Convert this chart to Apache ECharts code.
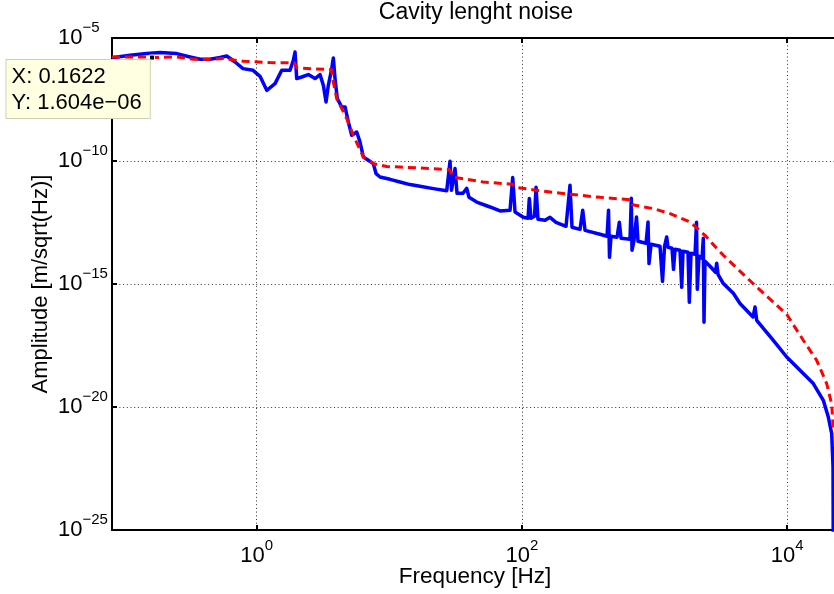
<!DOCTYPE html>
<html>
<head>
<meta charset="utf-8">
<title>Cavity lenght noise</title>
<script src="https://cdn.jsdelivr.net/npm/echarts@6/dist/echarts.min.js"></script>
<style>
  html, body { margin: 0; padding: 0; background: #fff; }
  #chart { width: 834px; height: 594px; }
</style>
</head>
<body>
<div id="chart"></div>
<script>
// Measured cavity length noise spectrum (blue)
const measuredFreq = [
  0.081, 0.1108, 0.1481, 0.1865, 0.2493, 0.314, 0.3736, 0.4444, 0.5288, 0.5938,
  0.686, 0.788, 0.938, 1.059, 1.190, 1.223, 1.374, 1.544, 1.783, 1.888,
  1.945, 2.003, 2.185, 2.449, 2.753, 3.001, 3.180, 3.332, 3.467, 3.679,
  3.782, 3.895, 4.053, 4.375, 4.634, 4.908, 5.205, 5.677, 6.012, 6.366,
  6.944, 7.574, 7.937, 8.508, 10.12, 12.04, 14.33, 17.04, 21.47, 27.10,
  28.70, 29.45, 31.30, 32.41, 35.96, 38.35, 39.90, 45.61, 57.46, 68.37,
  81.35, 85.22, 88.72, 102.5, 111.2, 113.7, 117.1, 124.5, 127.8, 132.2,
  149.4, 162.9, 180.8, 215.1, 230.5, 238.7, 274.3, 287.4, 299.2, 388.2,
  438.4, 449.9, 457.7, 469.8, 521.5, 542.7, 559.0, 653.4, 668.3, 676.5,
  700.4, 731.5, 750.8, 862.9, 893.4, 908.9, 941.1, 1100, 1149, 1190,
  1236, 1264, 1355, 1391, 1428, 1557, 1604, 1640, 1789, 1830,
  1885, 2021, 2074, 2103, 2166, 2282, 2333, 2362, 2403, 2622,
  2884, 2944, 3012, 3303, 3929, 4414, 5532, 5727, 5898, 7870,
  9931, 12510, 15760, 18750, 20450, 21690, 22190, 22300
];
const measuredAmp = [
  1.57e-6, 1.98e-6, 2.32e-6, 2.55e-6, 2.32e-6, 1.69e-6, 1.36e-6, 1.36e-6, 1.60e-6, 1.85e-6,
  1.06e-6, 5.70e-7, 4.86e-7, 2.77e-7, 7.48e-8, 6.38e-8, 1.40e-7, 4.86e-7, 4.86e-7, 1.24e-6,
  2.70e-6, 2.24e-7, 2.60e-7, 3.25e-7, 2.24e-7, 3.25e-7, 1.19e-7, 2.50e-8, 1.19e-7, 5.70e-7,
  1.54e-6, 2.24e-7, 3.44e-8, 1.57e-8, 1.57e-8, 3.85e-9, 1.11e-9, 1.51e-9, 5.91e-10, 1.46e-10,
  1.07e-10, 7.83e-11, 3.08e-11, 2.24e-11, 1.80e-11, 1.40e-11, 1.10e-11, 9.36e-12, 7.55e-12, 6.15e-12,
  9.73e-11, 6.44e-12, 4.91e-11, 4.86e-12, 4.86e-12, 7.77e-12, 3.34e-12, 2.15e-12, 1.35e-12, 9.28e-13,
  9.91e-13, 2.12e-11, 8.45e-13, 5.14e-13, 4.69e-13, 2.96e-12, 4.69e-13, 5.65e-13, 8.53e-12, 4.27e-13,
  3.89e-13, 5.14e-13, 3.22e-13, 2.22e-13, 1.03e-11, 2.02e-13, 1.67e-13, 9.91e-13, 1.52e-13, 1.05e-13,
  8.69e-14, 9.91e-13, 1.22e-14, 8.69e-14, 7.91e-14, 3.22e-13, 7.21e-14, 6.56e-14, 3.05e-12, 2.34e-14,
  5.97e-14, 5.29e-13, 5.44e-14, 4.51e-14, 3.31e-13, 6.75e-15, 4.11e-14, 3.41e-14, 1.29e-15, 3.41e-14,
  8.15e-14, 3.11e-14, 2.83e-14, 3.96e-15, 2.58e-14, 2.34e-14, 7.34e-16, 2.13e-14, 1.95e-14, 1.80e-16,
  1.77e-14, 1.61e-14, 3.22e-13, 6.09e-16, 1.34e-14, 1.11e-14, 7.21e-14, 2.77e-17, 8.38e-15, 5.24e-15,
  2.99e-15, 6.94e-15, 2.48e-15, 1.04e-15, 4.19e-16, 1.60e-16, 4.56e-17, 1.16e-16, 3.34e-17, 5.14e-18,
  1.08e-18, 3.10e-19, 8.93e-20, 1.87e-20, 3.92e-21, 8.30e-22, 3.64e-23, 1e-26
];

// Model noise budget (red dashed)
const modelFreq = [
  0.081, 0.1396, 0.1622, 0.2493, 0.3325, 0.4444, 0.5599, 0.7923, 1.260, 1.928,
  2.003, 3.666, 3.782, 4.012, 4.772, 5.352, 6.366, 7.574, 9.559, 12.04,
  28.45, 30.50, 51.16, 84.93, 89.46, 136.9, 230.5, 388.2, 659.2, 682.3,
  979.5, 1309, 1852, 2403, 2944, 3303, 5898, 9931, 13250, 16720,
  19890, 21690, 22300
];
const modelAmp = [
  1.69e-6, 1.70e-6, 1.604e-6, 1.69e-6, 1.36e-6, 1.36e-6, 1.46e-6, 1.13e-6, 1.0e-6, 9.8e-7,
  6.03e-7, 5.19e-7, 1.63e-7, 3.44e-8, 5.29e-9, 1.11e-9, 1.46e-10, 7.83e-11, 5.97e-11, 5.70e-11,
  4.47e-11, 2.17e-11, 1.40e-11, 1.13e-11, 8.53e-12, 6.15e-12, 4.43e-12, 3.34e-12, 2.65e-12, 1.66e-12,
  1.16e-12, 7.28e-13, 3.31e-13, 9.54e-14, 2.83e-14, 1.47e-14, 7.55e-16, 5.86e-17, 5.14e-18, 7.91e-19,
  8.93e-20, 1.29e-20, 1.13e-21
];

// Decade tick positions
const freqTicks = [1, 100, 10000];
const ampTicks = [1e-25, 1e-20, 1e-15, 1e-10, 1e-5];

// Data cursor readout
const datatipX = 0.1622;
const datatipY = 1.604e-6;

const FONT = '"Liberation Sans", Arial, Helvetica, sans-serif';
const MINUS = '\u2212';

function powerLabel(v) {
  const e = Math.round(Math.log10(v));
  return '{b|10}{s|' + (e < 0 ? MINUS + (-e) : String(e)) + '}';
}

function matlabExp(v) {
  const parts = v.toExponential(3).split('e');
  const n = parseInt(parts[1], 10);
  return parts[0] + 'e' + (n < 0 ? MINUS : '+') + String(Math.abs(n)).padStart(2, '0');
}

const richPow = {
  b: { fontSize: 22, lineHeight: 36, verticalAlign: 'middle', fontFamily: FONT, color: '#000' },
  s: { fontSize: 15, lineHeight: 16, verticalAlign: 'top', fontFamily: FONT, color: '#000' }
};

const gridDots = { color: '#333', width: 1, type: [1, 2.7] };
const blackLine = { color: '#000', width: 2 };

const chart = echarts.init(document.getElementById('chart'));

chart.setOption({
  animation: false,
  backgroundColor: '#fff',
  title: {
    text: 'Cavity lenght noise',
    left: 476,
    top: 1,
    padding: 0,
    textAlign: 'center',
    textStyle: { fontSize: 23, fontWeight: 'normal', fontFamily: FONT, color: '#000' }
  },
  grid: { left: 112, top: 38, right: -4, bottom: 64, containLabel: false, outerBoundsMode: 'none' },
  xAxis: [
    {
      type: 'log', logBase: 10, min: 0.081, max: 24200, position: 'bottom',
      axisLine: { show: true, onZero: false, lineStyle: blackLine },
      axisTick: { show: true, inside: true, length: 5, lineStyle: blackLine, customValues: freqTicks },
      axisLabel: { show: true, customValues: freqTicks, formatter: powerLabel, rich: richPow, margin: 8 },
      splitLine: { show: true, lineStyle: gridDots },
      minorTick: { show: false },
      name: 'Frequency [Hz]', nameLocation: 'middle', nameGap: 35, nameMoveOverlap: false,
      nameTextStyle: { fontSize: 22.5, fontFamily: FONT, color: '#000' }
    },
    {
      type: 'log', logBase: 10, min: 0.081, max: 24200, position: 'top',
      axisLine: { show: true, onZero: false, lineStyle: blackLine },
      axisTick: { show: true, inside: true, length: 5, lineStyle: blackLine, customValues: freqTicks },
      axisLabel: { show: false },
      splitLine: { show: false }
    }
  ],
  yAxis: {
    type: 'log', logBase: 10, min: 1e-25, max: 1e-5,
    axisLine: { show: true, onZero: false, lineStyle: blackLine },
    axisTick: { show: true, inside: true, length: 5, lineStyle: blackLine, customValues: ampTicks },
    axisLabel: { show: true, customValues: ampTicks, formatter: powerLabel, rich: richPow, margin: 54, align: 'left' },
    splitLine: { show: true, lineStyle: gridDots },
    minorTick: { show: false },
    name: 'Amplitude [m/sqrt(Hz)]', nameLocation: 'middle', nameGap: 60, nameRotate: 90, nameMoveOverlap: false,
    nameTextStyle: { fontSize: 22, fontFamily: FONT, color: '#000' }
  },
  series: [
    {
      name: 'measured', type: 'line', xAxisIndex: 0, yAxisIndex: 0,
      data: measuredFreq.map((f, i) => [f, measuredAmp[i]]),
      symbol: 'none', showSymbol: false, clip: true,
      lineStyle: { color: '#0000ff', width: 3.5, join: 'round' },
      z: 2
    },
    {
      name: 'model', type: 'line', xAxisIndex: 0, yAxisIndex: 0,
      data: modelFreq.map((f, i) => [f, modelAmp[i]]),
      symbol: 'none', showSymbol: false, clip: true,
      lineStyle: { color: '#ff0000', width: 3, type: [8, 5] },
      z: 3,
      markPoint: {
        silent: true,
        symbol: 'rect', symbolSize: 5,
        itemStyle: { color: '#000', borderColor: '#ffffe1', borderWidth: 1 },
        label: {
          show: true,
          position: [-142.5, 5.5],
          align: 'left', verticalAlign: 'top',
          formatter: 'X: ' + String(datatipX) + '\nY: ' + matlabExp(datatipY),
          backgroundColor: '#ffffe1', borderColor: '#cfcfb4', borderWidth: 1,
          padding: [4, 8, 2, 5],
          fontSize: 22, lineHeight: 26, color: '#000', fontFamily: FONT
        },
        data: [{ coord: [datatipX, datatipY] }]
      }
    }
  ]
});
</script>
</body>
</html>
